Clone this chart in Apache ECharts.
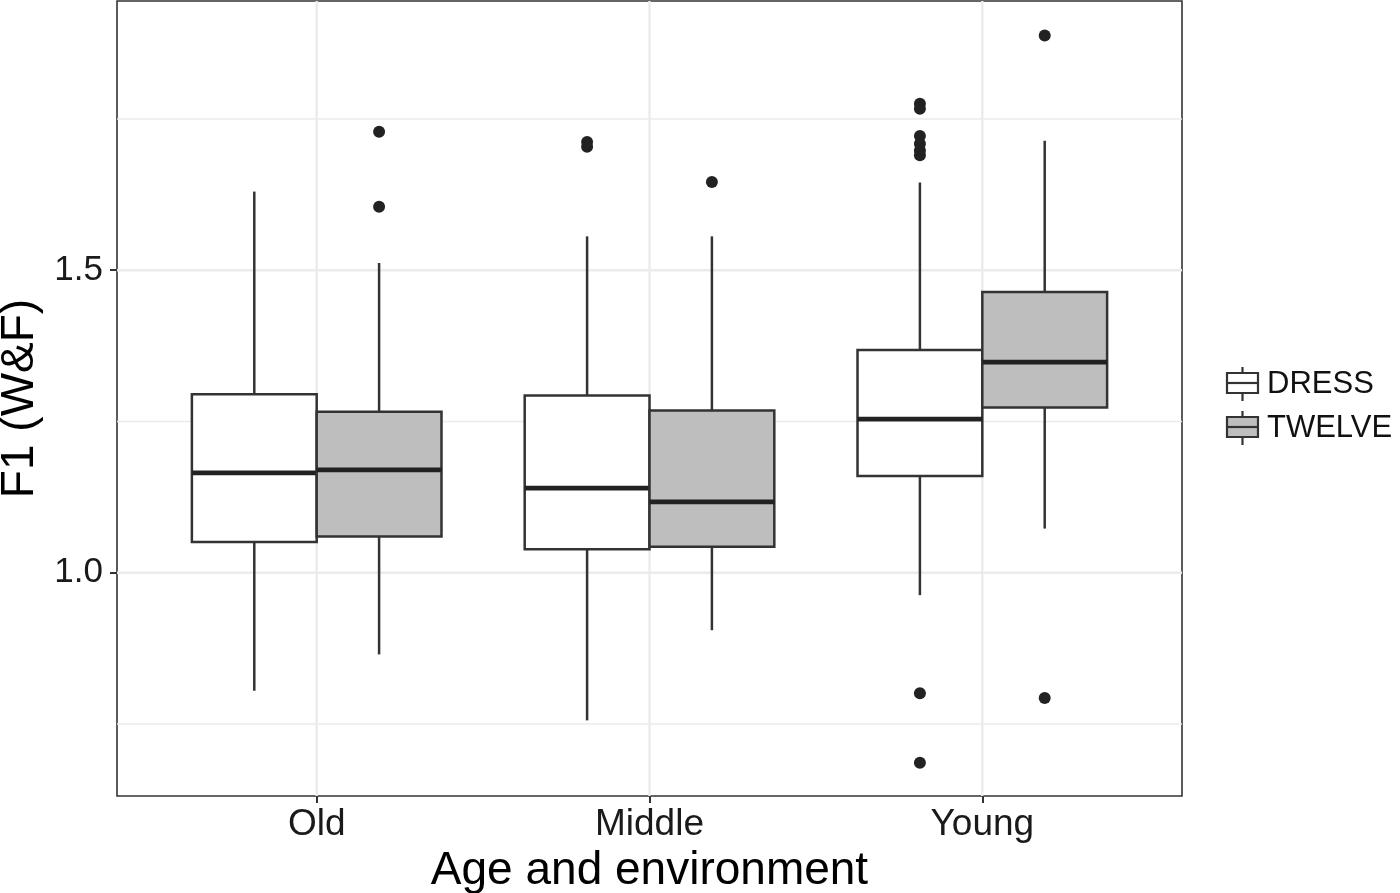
<!DOCTYPE html>
<html>
<head>
<meta charset="utf-8">
<script src="https://cdn.jsdelivr.net/npm/echarts@6/dist/echarts.min.js"></script>
<style>
html,body{margin:0;padding:0;background:#fff;}
#chart{width:1400px;height:893px;}
</style>
</head>
<body>
<div id="chart"></div>
<script>
// ---- data ----
const categories = ['Old', 'Middle', 'Young'];
const seriesNames = ['DRESS', 'TWELVE'];
// [whiskerLow, Q1, median, Q3, whiskerHigh] per category
const dressStats = [
  [0.805, 1.051, 1.165, 1.295, 1.630],
  [0.756, 1.039, 1.140, 1.293, 1.556],
  [0.963, 1.160, 1.254, 1.368, 1.645]
];
const twelveStats = [
  [0.865, 1.060, 1.170, 1.266, 1.512],
  [0.905, 1.043, 1.117, 1.268, 1.556],
  [1.073, 1.273, 1.348, 1.464, 1.714]
];
// outliers per category
const dressOutliers = [
  [],
  [1.712, 1.704],
  [1.775, 1.767, 1.722, 1.709, 1.698, 1.690, 0.801, 0.686]
];
const twelveOutliers = [
  [1.729, 1.605],
  [1.646],
  [1.888, 0.793]
];
const yTickValues = [1.0, 1.5];
const yGridValues = [0.75, 1.0, 1.25, 1.5, 1.75];
const xTickValues = [1, 2, 3];

// ---- layout ----
const dodge = 0.1875, boxW = 0.375;
const offsets = [-dodge, dodge];
const fills = ['#FFFFFF', '#BEBEBE'];
const lineCol = '#333333';
const FONT = 'Liberation Sans, Arial, Helvetica, sans-serif';

function boxData(stats, off) {
  return stats.map((s, i) => [i + 1 + off].concat(s));
}
function outData(outs, off) {
  const r = [];
  outs.forEach((arr, i) => arr.forEach(v => r.push([i + 1 + off, v])));
  return r;
}

function renderBox(fill) {
  return function (params, api) {
    const x = api.value(0);
    const lo = api.coord([x, api.value(1)]);
    const q1 = api.coord([x, api.value(2)]);
    const md = api.coord([x, api.value(3)]);
    const q3 = api.coord([x, api.value(4)]);
    const hi = api.coord([x, api.value(5)]);
    const w = api.size([boxW, 0])[0];
    const cx = lo[0];
    const stroke = { stroke: lineCol, lineWidth: 2.5 };
    return {
      type: 'group',
      children: [
        { type: 'line', shape: { x1: cx, y1: hi[1], x2: cx, y2: q3[1] }, style: stroke },
        { type: 'line', shape: { x1: cx, y1: q1[1], x2: cx, y2: lo[1] }, style: stroke },
        { type: 'rect', shape: { x: cx - w / 2, y: q3[1], width: w, height: q1[1] - q3[1] },
          style: { fill: fill, stroke: lineCol, lineWidth: 2.5 } },
        { type: 'line', shape: { x1: cx - w / 2, y1: md[1], x2: cx + w / 2, y2: md[1] },
          style: { stroke: '#222', lineWidth: 4.8 } }
      ]
    };
  };
}

function renderHGrid(params, api) {
  const v = api.value(0);
  const cs = params.coordSys;
  const p = api.coord([0.4, v]);
  const major = yTickValues.indexOf(v) >= 0;
  return { type: 'line', shape: { x1: cs.x, y1: p[1], x2: cs.x + cs.width, y2: p[1] },
    style: { stroke: '#EBEBEB', lineWidth: major ? 2.4 : 1.6 } };
}
function renderVGrid(params, api) {
  const v = api.value(0);
  const cs = params.coordSys;
  const p = api.coord([v, 1.0]);
  return { type: 'line', shape: { x1: p[0], y1: cs.y, x2: p[0], y2: cs.y + cs.height },
    style: { stroke: '#EBEBEB', lineWidth: 2.4 } };
}

const chart = echarts.init(document.getElementById('chart'), null, { renderer: 'canvas' });

// legend keys
function legendKey(y, fill, label) {
  const x = 1227, w = 31, h = 20;
  return [
    { type: 'line', shape: { x1: x + w / 2, y1: y - 6, x2: x + w / 2, y2: y + h + 8 }, style: { stroke: lineCol, lineWidth: 2.2 } },
    { type: 'rect', shape: { x: x, y: y, width: w, height: h }, style: { fill: fill, stroke: lineCol, lineWidth: 2.2 } },
    { type: 'line', shape: { x1: x, y1: y + h / 2, x2: x + w, y2: y + h / 2 }, style: { stroke: lineCol, lineWidth: 2.2 } },
    { type: 'text', x: 1267, y: y + h / 2 + 1, style: { text: label, font: '31px ' + FONT, fill: '#111', textVerticalAlign: 'middle' } }
  ];
}

chart.setOption({
  backgroundColor: '#fff',
  animation: false,
  grid: { left: 117, right: 218, top: 1, bottom: 97, containLabel: false, outerBoundsMode: 'none',
    show: true, borderColor: lineCol, borderWidth: 1.6, backgroundColor: '#fff', z: 0 },
  xAxis: {
    type: 'value', min: 0.4, max: 3.6,
    name: 'Age and environment', nameLocation: 'middle', nameGap: 52,
    nameTextStyle: { fontSize: 46, color: '#000', fontFamily: FONT },
    axisLine: { show: false },
    axisTick: { show: true, length: 7, customValues: xTickValues, lineStyle: { color: lineCol, width: 2 } },
    axisLabel: { customValues: xTickValues, margin: 10, fontSize: 37, color: '#1a1a1a', fontFamily: FONT,
      formatter: v => categories[Math.round(v) - 1] || '' },
    splitLine: { show: false }
  },
  yAxis: {
    type: 'value', min: 0.631, max: 1.945,
    name: 'F1 (W&F)', nameLocation: 'middle', nameGap: 69, nameRotate: 90,
    nameTextStyle: { fontSize: 46, color: '#000', fontFamily: FONT },
    axisLine: { show: false },
    axisTick: { show: true, length: 7, customValues: yTickValues, lineStyle: { color: lineCol, width: 2 } },
    axisLabel: { customValues: yTickValues, margin: 14, fontSize: 35, color: '#1a1a1a', fontFamily: FONT,
      formatter: v => v.toFixed(1) },
    splitLine: { show: false }
  },
  graphic: [].concat(legendKey(373, fills[0], seriesNames[0]), legendKey(417, fills[1], seriesNames[1])),
  series: [
    { type: 'custom', name: 'hgrid', silent: true, z: 1, renderItem: renderHGrid,
      data: yGridValues.map(v => [v]), encode: { y: 0 } },
    { type: 'custom', name: 'vgrid', silent: true, z: 1, renderItem: renderVGrid,
      data: xTickValues.map(v => [v]), encode: { x: 0 } },
    { type: 'custom', name: seriesNames[0], z: 3, renderItem: renderBox(fills[0]),
      data: boxData(dressStats, offsets[0]), encode: { x: 0, y: [1, 2, 3, 4, 5] } },
    { type: 'custom', name: seriesNames[1], z: 3, renderItem: renderBox(fills[1]),
      data: boxData(twelveStats, offsets[1]), encode: { x: 0, y: [1, 2, 3, 4, 5] } },
    { type: 'scatter', name: seriesNames[0] + ' outliers', z: 4, symbolSize: 12,
      itemStyle: { color: '#222', opacity: 1 }, data: outData(dressOutliers, offsets[0]) },
    { type: 'scatter', name: seriesNames[1] + ' outliers', z: 4, symbolSize: 12,
      itemStyle: { color: '#222', opacity: 1 }, data: outData(twelveOutliers, offsets[1]) }
  ]
});
</script>
</body>
</html>
